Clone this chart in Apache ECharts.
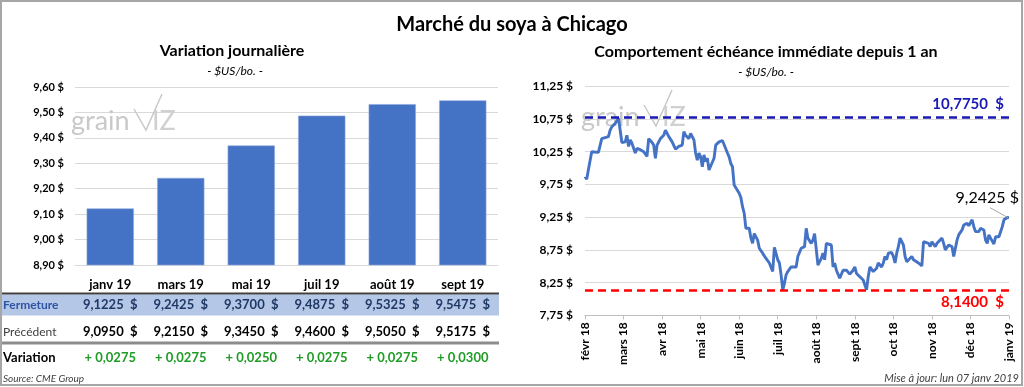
<!DOCTYPE html>
<html><head><meta charset="utf-8">
<script src="https://cdn.jsdelivr.net/npm/echarts@6/dist/echarts.min.js"></script>
<style>html,body{margin:0;padding:0;background:#fff;}#c{width:1024px;height:387px;}</style>
</head><body><div id="c"></div>
<script>
// ---- data ----
const contracts = ['janv 19','mars 19','mai 19','juil 19','août 19','sept 19'];
const fermeture = [9.1225, 9.2425, 9.3700, 9.4875, 9.5325, 9.5475];
const precedent = [9.0950, 9.2150, 9.3450, 9.4600, 9.5050, 9.5175];
const variation = [0.0275, 0.0275, 0.0250, 0.0275, 0.0275, 0.0300];
const barTicks = [8.90, 9.00, 9.10, 9.20, 9.30, 9.40, 9.50, 9.60];
const monthLabels = ['févr 18','mars 18','avr 18','mai 18','juin 18','juil 18','août 18','sept 18','oct 18','nov 18','déc 18','janv 19'];
const lineTicks = [7.75, 8.25, 8.75, 9.25, 9.75, 10.25, 10.75, 11.25];
const highPrice = 10.775;
const lowPrice = 8.14;
const tradingDay = [
 0,1,2,4,5,8,10,11,14,15,
 16,18,20,21,22,24,25,26,27,28,
 30,31,33,35,37,38,40,41,42,43,
 45,47,48,50,52,54,56,58,59,60,
 61,62,63,64,65,66,67,68,69,70,
 71,72,73,74,75,77,78,80,82,83,
 85,86,87,88,89,90,92,93,94,95,
 96,98,99,100,101,103,104,106,108,110,
 112,113,115,116,117,118,119,120,121,123,
 126,127,128,129,131,132,133,134,135,136,
 137,138,139,140,141,142,143,144,145,147,
 148,149,150,152,153,154,155,156,158,159,
 160,161,162,163,164,166,168,169,170,171,
 172,174,175,176,177,178,179,180,181,183,
 184,185,186,187,188,190,191,192,193,195,
 196,197,199,201,202,203,205,206,207,209,
 210,211,213,214,215,217,218,219,220,222,
 223,225,226,228,229,231,232,233,235,236,
 238,239,240,241,242,244,245,247,248,249,
 250,252,253
];
const closePrice = [
 9.87,9.83,9.97,10.25,10.24,10.24,10.45,10.48,10.48,10.58,
 10.63,10.68,10.76,10.775,10.39,10.40,10.50,10.33,10.43,10.38,
 10.23,10.30,10.28,10.25,10.18,10.45,10.39,10.35,10.15,10.35,
 10.45,10.50,10.58,10.48,10.40,10.29,10.33,10.35,10.555,10.50,
 10.53,10.45,10.53,10.53,10.43,10.23,10.12,10.23,10.17,10.02,
 10.20,10.10,10.15,9.97,10.00,10.15,10.35,10.40,10.42,10.43,
 10.23,10.17,10.07,10.02,9.74,9.72,9.615,9.55,9.41,9.31,
 9.08,9.08,8.93,8.85,9.00,8.90,8.775,8.70,8.62,8.55,
 8.42,8.79,8.60,8.55,8.37,8.14,8.24,8.37,8.42,8.49,
 8.49,8.65,8.675,8.775,8.80,9.08,8.93,8.95,8.85,8.90,
 9.00,8.98,8.52,8.57,8.62,8.70,8.60,8.85,8.825,8.825,
 8.49,8.55,8.44,8.32,8.34,8.44,8.44,8.44,8.38,8.39,
 8.44,8.49,8.39,8.42,8.34,8.29,8.14,8.34,8.49,8.47,
 8.42,8.47,8.55,8.57,8.49,8.55,8.65,8.60,8.70,8.71,
 8.65,8.55,8.70,8.80,8.93,8.825,8.65,8.57,8.60,8.65,
 8.60,8.57,8.55,8.505,8.875,8.875,8.85,8.80,8.875,8.80,
 8.85,8.825,8.93,8.85,8.75,8.825,8.85,8.80,8.65,8.90,
 8.98,9.055,9.13,9.155,9.12,9.21,9.105,9.03,9.03,9.08,
 9.055,8.90,8.85,8.98,8.93,8.84,8.95,8.95,8.95,9.105,
 9.21,9.245,9.2425
];
const lastDay = 253;
const labelEvery = 23;

// ---- helpers ----
const FONT = 'Lato, "Open Sans", "DejaVu Sans", sans-serif';
const fr = (v, d) => v.toFixed(d).replace('.', ',');
const money2 = v => fr(v, 2) + ' $';
const BLUE = '#4472c4';

const chart = echarts.init(document.getElementById('c'));
chart.setOption({
  animation: false,
  textStyle: { fontFamily: FONT },
  grid: [
    { left: 75, width: 423, top: 87, height: 178 },
    { left: 585, width: 424, top: 86.2, height: 229.2 }
  ],
  xAxis: [
    { type: 'category', gridIndex: 0, data: contracts,
      axisLine: { show: true, lineStyle: { color: '#d9d9d9' } }, axisTick: { show: false },
      axisLabel: { color: '#000', fontWeight: 'bold', fontSize: 13, margin: 13, fontFamily: FONT } },
    { type: 'value', gridIndex: 1, min: 0, max: lastDay, interval: labelEvery,
      axisLine: { show: true, lineStyle: { color: '#bfbfbf' } },
      axisTick: { show: true, length: 4, lineStyle: { color: '#bfbfbf' } },
      splitLine: { show: false },
      axisLabel: { rotate: 90, color: '#000', fontWeight: 'bold', fontSize: 12, margin: 7, fontFamily: FONT,
        formatter: v => monthLabels[Math.round(v / labelEvery)] || '' } }
  ],
  yAxis: [
    { type: 'value', gridIndex: 0, min: barTicks[0], max: barTicks[barTicks.length - 1], interval: 0.1,
      axisLine: { show: false }, axisTick: { show: false },
      splitLine: { lineStyle: { color: '#d9d9d9' } },
      axisLabel: { color: '#000', fontWeight: 'bold', fontSize: 11, margin: 11, fontFamily: FONT, formatter: money2 } },
    { type: 'value', gridIndex: 1, min: lineTicks[0], max: lineTicks[lineTicks.length - 1], interval: 0.5,
      axisLine: { show: false }, axisTick: { show: false },
      splitLine: { lineStyle: { color: '#d9d9d9' } },
      axisLabel: { color: '#000', fontWeight: 'bold', fontSize: 12, margin: 12, fontFamily: FONT, formatter: money2 } }
  ],
  series: [
    { type: 'bar', xAxisIndex: 0, yAxisIndex: 0, data: fermeture, barCategoryGap: '33%',
      itemStyle: { color: BLUE, borderColor: '#8eaadb', borderWidth: 0.6 }, z: 3 },
    { type: 'line', xAxisIndex: 1, yAxisIndex: 1, showSymbol: false, z: 3,
      data: tradingDay.map((d, i) => [d, closePrice[i]]),
      lineStyle: { color: BLUE, width: 2.9 },
      markLine: { silent: true, symbol: 'none', animation: false,
        data: [
          { yAxis: highPrice, lineStyle: { color: '#1a1ab4', type: [8, 5], width: 2.5 },
            label: { position: 'insideEndTop', distance: 5, formatter: fr(highPrice, 4) + '  $',
              color: '#1a1ab4', fontWeight: 'bold', fontSize: 15, fontFamily: FONT } },
          { yAxis: lowPrice, lineStyle: { color: '#ff0000', type: [8, 5], width: 2.5 },
            label: { position: 'insideEndBottom', distance: 5, formatter: fr(lowPrice, 4) + '  $',
              color: '#ff0000', fontWeight: 'bold', fontSize: 15, fontFamily: FONT } }
        ] } }
  ]
});

// ---- graphics: titles, watermarks, table, footers ----
const els = [];
const txt = (text, x, y, font, fill, align, z) => els.push({ type: 'text', z: z == null ? 10 : z, silent: true,
  style: { text, x, y, font: font + ' ' + FONT, fill, align: align || 'left', verticalAlign: 'middle' } });
const hline = (x1, x2, y, color, w, z) => els.push({ type: 'line', z: z == null ? 5 : z, silent: true,
  shape: { x1, y1: y, x2, y2: y }, style: { stroke: color, lineWidth: w } });

els.push({ type: 'rect', z: 20, silent: true, shape: { x: 1, y: 1, width: 1021, height: 384 },
  style: { fill: 'none', stroke: '#a6a6a6', lineWidth: 2 } });

txt('Marché du soya à Chicago', 512, 25, 'bold 20px', '#000', 'center');
txt('Variation journalière', 232, 51, 'bold 16px', '#000', 'center');
txt('- $US/bo. -', 235, 71, 'italic 12px', '#000', 'center');
txt('Comportement échéance immédiate depuis 1 an', 766, 52, 'bold 16px', '#000', 'center');
txt('- $US/bo. -', 766, 72, 'italic 12px', '#000', 'center');

// watermark
function watermark(dx, dy) {
  txt('grain', 71 + dx, 121 + dy, '27px', '#c9c9c9', 'left', 1);
  els.push({ type: 'polyline', z: 1, silent: true,
    shape: { points: [[134 + dx, 109 + dy], [146 + dx, 130 + dy], [162 + dx, 94 + dy]] },
    style: { stroke: '#c9c9c9', lineWidth: 1.5, fill: 'none' } });
  txt('IZ', 152 + dx, 121 + dy, '27px', '#d0d0d0', 'left', 1);
}
watermark(0, 0);
watermark(510, -4);

// table
hline(0, 499, 293.5, '#404040', 2);
els.push({ type: 'rect', z: 4, silent: true, shape: { x: 0, y: 294.5, width: 499, height: 21 }, style: { fill: '#b4c7e7' } });
hline(0, 499, 343, '#8c8c8c', 3);
txt('Fermeture', 3, 305, 'bold 12px', '#2f54a4', 'left');
txt('Précédent', 3, 332, '12px', '#404040', 'left');
txt('Variation', 3, 358, 'bold 13px', '#000', 'left');
contracts.forEach((c, i) => {
  const x = chart.convertToPixel({ xAxisIndex: 0, yAxisIndex: 0 }, [i, 9])[0];
  txt(fr(fermeture[i], 4) + '  $', x, 305, 'bold 13px', '#1f3864', 'center');
  txt(fr(precedent[i], 4) + '  $', x, 332, 'bold 13px', '#000', 'center');
  txt('+ ' + fr(variation[i], 4), x, 358, 'bold 13px', '#1f9b26', 'center');
});
txt('Source: CME Group', 3, 379, 'italic 10px', '#404040', 'left');
txt('Mise à jour: lun 07 janv 2019', 1019, 378, 'italic 11px', '#404040', 'right');

// last value callout
const lp = chart.convertToPixel({ xAxisIndex: 1, yAxisIndex: 1 }, [tradingDay[tradingDay.length - 1], closePrice[closePrice.length - 1]]);
els.push({ type: 'line', z: 6, silent: true, shape: { x1: lp[0] - 19, y1: lp[1] - 10, x2: lp[0] - 1, y2: lp[1] }, style: { stroke: '#a6a6a6', lineWidth: 1 } });
txt(fr(closePrice[closePrice.length - 1], 4) + ' $', lp[0] + 10, lp[1] - 20, '16px', '#000', 'right');

chart.setOption({ graphic: { elements: els } });
</script>
</body></html>
